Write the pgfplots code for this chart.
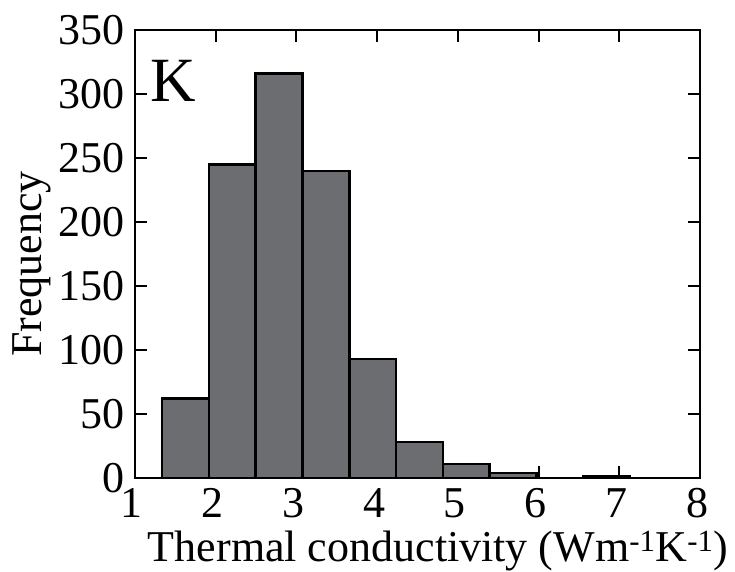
\documentclass[border=0pt]{standalone}
\usepackage{fontspec}
\setmainfont{Liberation Serif}
\usepackage{pgfplots}
\pgfplotsset{compat=1.18}
\definecolor{barfill}{RGB}{108,109,113}
\begin{document}
\begin{tikzpicture}
\path[use as bounding box] (-135pt,-93pt) rectangle (600pt,478pt);
\begin{axis}[
  at={(0,0)}, anchor=south west,
  scale only axis, width=565pt, height=448pt,
  xmin=1, xmax=8, ymin=0, ymax=350,
  xtick={1,2,3,4,5,6,7,8}, ytick={0,50,100,150,200,250,300,350},
  tick align=inside, major tick length=12pt,
  axis line style={line width=2.5pt},
  every tick/.style={black, line width=2pt},
  tick label style={font=\fontsize{44}{44}\selectfont},
  /pgf/number format/assume math mode=true,
  xticklabel style={inner sep=0pt, anchor=north, yshift=-10pt, xshift=-3pt},
  yticklabel style={inner sep=0pt, anchor=east, xshift=-10pt},
  clip=false,
]
\addplot[ybar interval, fill=barfill, draw=black, line width=2.5pt]
coordinates {
(1.335,62) (1.915,245) (2.495,316) (3.075,240) (3.655,93)
(4.235,28) (4.815,11) (5.395,4) (5.975,0) (6.555,1) (7.135,1)
};
\node[anchor=base west, inner sep=0pt, font=\fontsize{63}{63}\selectfont] at (axis cs:1.19,294) {K};
\end{axis}
\node[anchor=base, inner sep=0pt, font=\fontsize{44}{44}\selectfont] at (303pt,-83pt) {Thermal conductivity (Wm\textsuperscript{-1}K\textsuperscript{-1})};
\node[anchor=base, rotate=90, inner sep=0pt, font=\fontsize{44}{44}\selectfont] at (-93pt,214pt) {Frequency};
\end{tikzpicture}
\end{document}
